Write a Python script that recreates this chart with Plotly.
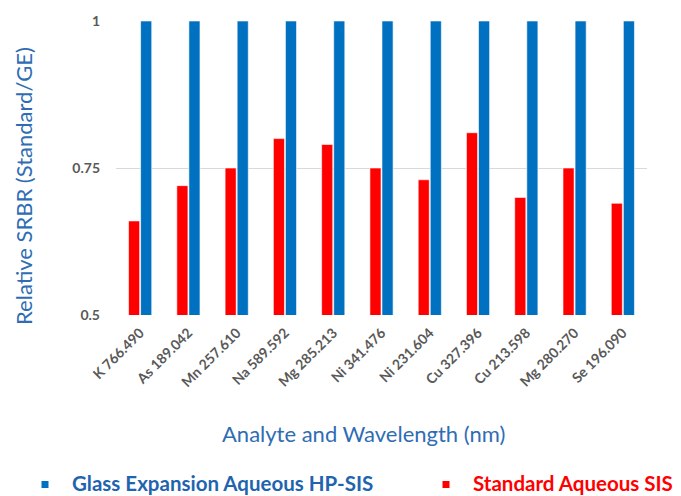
import plotly.graph_objects as go

categories = ["K 766.490", "As 189.042", "Mn 257.610", "Na 589.592", "Mg 285.213",
              "Ni 341.476", "Ni 231.604", "Cu 327.396", "Cu 213.598", "Mg 280.270", "Se 196.090"]
standard_sis = [0.66, 0.72, 0.75, 0.80, 0.79, 0.75, 0.73, 0.81, 0.70, 0.75, 0.69]
ge_hp_sis = [1, 1, 1, 1, 1, 1, 1, 1, 1, 1, 1]
y_ticks = [0.5, 0.75, 1]
y_tick_labels = ["0.5", "0.75", "1"]
series_names = ["Glass Expansion Aqueous HP-SIS", "Standard Aqueous SIS"]

RED = "#FF0000"
BLUE = "#0070C0"
TITLE_BLUE = "#2E6DB4"
LEG_BLUE = "#1F64AE"
FONT = "Lato"

fig = go.Figure()
fig.add_trace(go.Bar(x=categories, y=standard_sis, marker_color=RED,
                     marker_line=dict(color="white", width=0.6), name=series_names[1]))
fig.add_trace(go.Bar(x=categories, y=ge_hp_sis, marker_color=BLUE,
                     marker_line=dict(color="white", width=0.6), name=series_names[0]))

W, H = 681, 496
L, R, T, B = 116, 34, 21, 181
pw, ph = W - L - R, H - T - B

def px_x(p):
    return (p - L) / pw

def px_y(p):
    return (H - B - p) / ph

# manual legend (the reference legend sits at the very bottom edge)
legend_items = [(series_names[0], BLUE, LEG_BLUE, 45), (series_names[1], RED, RED, 446)]
shapes = []
annotations = []
for name, mcol, tcol, mx in legend_items:
    shapes.append(dict(type="rect", xref="paper", yref="paper",
                       x0=px_x(mx - 3.5), x1=px_x(mx + 3.5), y0=px_y(488), y1=px_y(481),
                       fillcolor=mcol, line=dict(width=0)))
    annotations.append(dict(text="<b>" + name + "</b>", x=px_x(mx + 25), y=px_y(483),
                            xref="paper", yref="paper", xanchor="left", yanchor="middle",
                            showarrow=False, font=dict(family=FONT, size=20.5, color=tcol)))

annotations += [
    dict(text="Analyte and Wavelength (nm)", x=px_x(363), y=px_y(433),
         xref="paper", yref="paper", xanchor="center", yanchor="middle",
         showarrow=False, font=dict(family=FONT, size=22, color=TITLE_BLUE)),
    dict(text="Relative SRBR (Standard/GE)", x=px_x(23), y=px_y(186),
         xref="paper", yref="paper", xanchor="center", yanchor="middle",
         textangle=-90, showarrow=False,
         font=dict(family=FONT, size=22, color=TITLE_BLUE)),
]

fig.update_layout(
    width=W, height=H,
    margin=dict(l=L, r=R, t=T, b=B, pad=0),
    paper_bgcolor="white", plot_bgcolor="white",
    font=dict(family=FONT, color="#595959"),
    barmode="group", bargap=0.5, bargroupgap=0.08,
    showlegend=False,
    xaxis=dict(tickangle=-45, tickfont=dict(size=14, color="#595959", weight="bold"),
               showgrid=False, showline=False, ticks="", automargin=False,
               ticklabelstandoff=6),
    yaxis=dict(range=[0.5, 1], tickvals=y_ticks, ticktext=y_tick_labels,
               tickfont=dict(size=14, color="#595959", weight="bold"),
               showgrid=True, gridcolor="#D9D9D9", gridwidth=1,
               zeroline=False, showline=False, ticks="", ticklabelstandoff=15,
               automargin=False),
    shapes=shapes,
    annotations=annotations,
)

fig.write_html("out.html", config={"displayModeBar": False},
               post_script="document.body.style.margin='0';document.body.style.padding='0';")
